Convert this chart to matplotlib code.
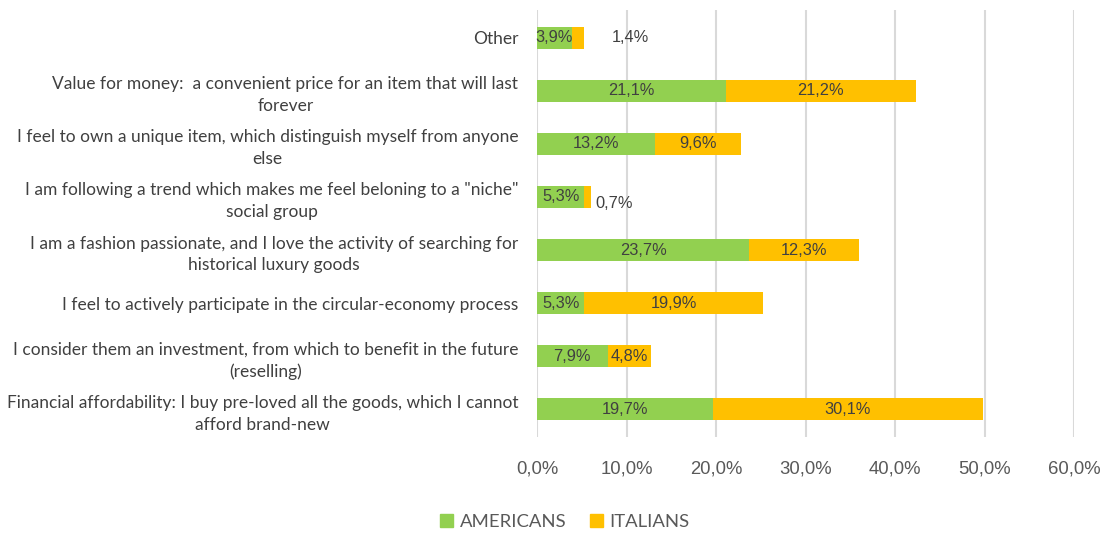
import matplotlib.pyplot as plt
from matplotlib.patches import Patch

# Survey answers, bottom to top
categories = [
    "Financial affordability: I buy pre-loved all the goods, which I cannot\nafford brand-new",
    "I consider them an investment, from which to benefit in the future\n(reselling)",
    "I feel to actively participate in the circular-economy process",
    "I am a fashion passionate, and I love the activity of searching for\nhistorical luxury goods",
    "I am following a trend which makes me feel beloning to a \"niche\"\nsocial group",
    "I feel to own a unique item, which distinguish myself from anyone\nelse",
    "Value for money:  a convenient price for an item that will last\nforever",
    "Other",
]
americans = [19.7, 7.9, 5.3, 23.7, 5.3, 13.2, 21.1, 3.9]
italians = [30.1, 4.8, 19.9, 12.3, 0.7, 9.6, 21.2, 1.4]
xticks = [0, 10, 20, 30, 40, 50, 60]

GREEN = "#92D050"
ORANGE = "#FFC000"
TEXT = "#404040"
TICK = "#595959"
GRID = "#D9D9D9"
LABEL_FONT = ["Lato", "DejaVu Sans"]
NUM_FONT = ["Liberation Sans", "DejaVu Sans"]


def pct(v):
    return f"{v:.1f}%".replace(".", ",")


fig = plt.figure(figsize=(11.05, 5.34), dpi=100)
ax = fig.add_axes([537 / 1105, 1 - 437 / 534, 537 / 1105, 427 / 534])

y = list(range(len(categories)))
h = 0.415
ax.barh(y, americans, height=h, color=GREEN, zorder=3)
ax.barh(y, italians, height=h, left=americans, color=ORANGE, zorder=3)

for yi, a, i in zip(y, americans, italians):
    ax.text(a / 2, yi, pct(a), ha="center", va="center", fontsize=11.8,
            color=TEXT, family=NUM_FONT, zorder=4)
    if i >= 2:
        ax.text(a + i / 2, yi, pct(i), ha="center", va="center", fontsize=11.8,
                color=TEXT, family=NUM_FONT, zorder=4)

# thin segments get their label pushed to the right of the bar
ax.annotate(pct(italians[7]), (americans[7] + italians[7], 7), xytext=(33, 0),
            textcoords="offset points", ha="center", va="center",
            fontsize=11.8, color=TEXT, family=NUM_FONT)
ax.annotate(pct(italians[4]), (americans[4] + italians[4], 4), xytext=(17, -4.5),
            textcoords="offset points", ha="center", va="center",
            fontsize=11.8, color=TEXT, family=NUM_FONT)

ax.set_xlim(0, 60)
ax.set_ylim(-0.52, 7.52)
ax.set_xticks(xticks)
ax.set_xticklabels([pct(t) for t in xticks], fontsize=13.3, color=TICK,
                   family=NUM_FONT)
ax.set_yticks(y)
ax.set_yticklabels(categories, fontsize=12.5, color=TEXT, family=LABEL_FONT,
                   multialignment="center", linespacing=1.45)
ax.tick_params(axis="x", length=0, pad=17)
ax.tick_params(axis="y", length=0, pad=13.5)
ax.grid(axis="x", color=GRID, linewidth=1.5, zorder=0)
for s in ax.spines.values():
    s.set_visible(False)

handles = [Patch(color=GREEN, label="AMERICANS"), Patch(color=ORANGE, label="ITALIANS")]
fig.legend(handles=handles, loc="center", bbox_to_anchor=(565 / 1105, 1 - 522 / 534),
           ncol=2, frameon=False, handlelength=0.7, handleheight=0.7,
           handletextpad=0.35, columnspacing=1.3,
           prop={"family": LABEL_FONT, "size": 13.3}, labelcolor=TICK)

fig.savefig("out.png", dpi=100)
